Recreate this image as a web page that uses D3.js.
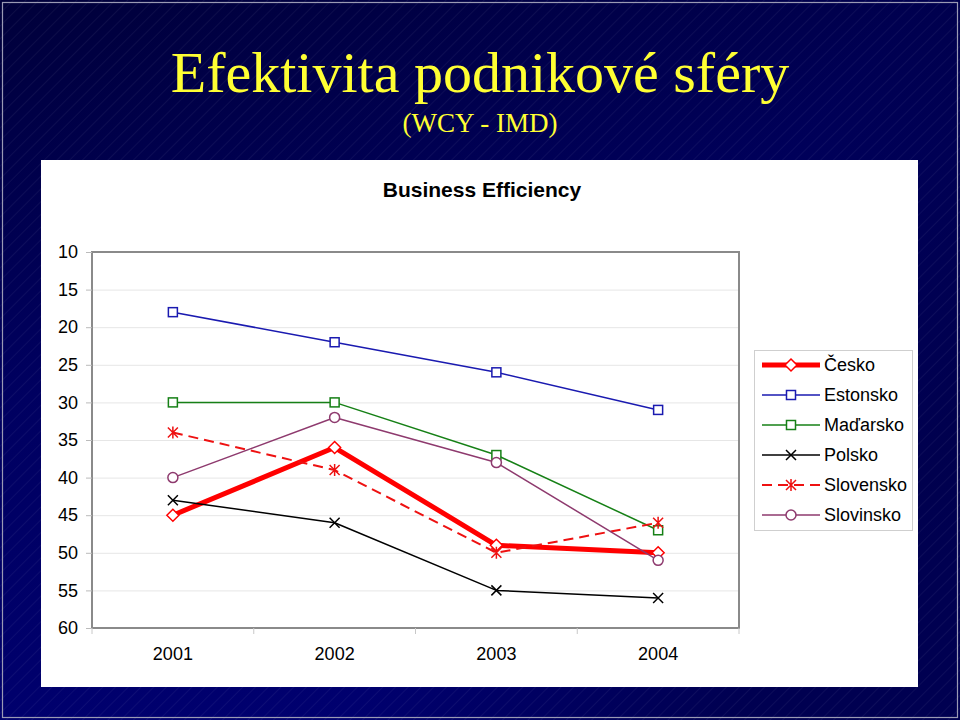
<!DOCTYPE html>
<html>
<head>
<meta charset="utf-8">
<script src="https://cdn.jsdelivr.net/npm/d3@7"></script>
<style>
  html, body { margin: 0; padding: 0; background: #000040; }
  svg { display: block; }
</style>
</head>
<body>
<svg id="chart" width="960" height="720"></svg>
<script>
// ---------- DATA ----------
const years = ["2001", "2002", "2003", "2004"];
const yTicks = [10, 15, 20, 25, 30, 35, 40, 45, 50, 55, 60];
const seriesNames = ["Česko", "Estonsko", "Maďarsko", "Polsko", "Slovensko", "Slovinsko"];
const cesko     = [45, 36, 49, 50];
const estonsko  = [18, 22, 26, 31];
const madarsko  = [30, 30, 37, 47];
const polsko    = [43, 46, 55, 56];
const slovensko = [34, 39, 50, 46];
const slovinsko = [40, 32, 38, 51];
const mainTitle = "Efektivita podnikové sféry";
const subTitle = "(WCY - IMD)";
const chartTitle = "Business Efficiency";

// ---------- STYLES ----------
const styles = [
  { color: "#ff0000", width: 5, dash: null, marker: "diamond" },
  { color: "#1a1ab0", width: 1.5, dash: null, marker: "square" },
  { color: "#168016", width: 1.5, dash: null, marker: "square" },
  { color: "#000000", width: 1.5, dash: null, marker: "x" },
  { color: "#ee1111", width: 2, dash: "10,6", marker: "star" },
  { color: "#8e3a6e", width: 1.5, dash: null, marker: "circle" }
];
const allValues = [cesko, estonsko, madarsko, polsko, slovensko, slovinsko];
const series = seriesNames.map((n, i) => ({ name: n, values: allValues[i], style: styles[i] }));

const sans = "'Liberation Sans', Arial, sans-serif";
const svg = d3.select("#chart");
const W = 960, H = 720;
const defs = svg.append("defs");

// background gradient
const g1 = defs.append("linearGradient").attr("id", "bg").attr("x1", 0).attr("y1", 0).attr("x2", 0.35).attr("y2", 1);
g1.append("stop").attr("offset", 0).attr("stop-color", "#00003a");
g1.append("stop").attr("offset", 0.5).attr("stop-color", "#000062");
g1.append("stop").attr("offset", 1).attr("stop-color", "#000074");
const g2 = defs.append("linearGradient").attr("id", "bg2").attr("x1", 0).attr("y1", 0).attr("x2", 1).attr("y2", 0.6);
g2.append("stop").attr("offset", 0).attr("stop-color", "#000010").attr("stop-opacity", 0);
g2.append("stop").attr("offset", 0.7).attr("stop-color", "#000010").attr("stop-opacity", 0.05);
g2.append("stop").attr("offset", 1).attr("stop-color", "#000010").attr("stop-opacity", 0.35);
const pat = defs.append("pattern").attr("id", "diag").attr("width", 9).attr("height", 9)
  .attr("patternUnits", "userSpaceOnUse").attr("patternTransform", "rotate(45)");
pat.append("line").attr("x1", 0).attr("y1", 0).attr("x2", 0).attr("y2", 9)
  .attr("stroke", "#ffffff").attr("stroke-opacity", 0.05).attr("stroke-width", 2);

svg.append("rect").attr("width", W).attr("height", H).attr("fill", "url(#bg)");
svg.append("rect").attr("width", W).attr("height", H).attr("fill", "url(#bg2)");
svg.append("rect").attr("width", W).attr("height", H).attr("fill", "url(#diag)");
svg.append("rect").attr("x", 2.5).attr("y", 2.5).attr("width", W - 5).attr("height", H - 5)
  .attr("fill", "none").attr("stroke", "#9a9ab4").attr("stroke-width", 1.2);

// titles
svg.append("text").attr("x", 480).attr("y", 92).attr("text-anchor", "middle")
  .attr("font-family", "'Liberation Serif', 'Times New Roman', serif").attr("font-size", 58)
  .attr("fill", "#ffff33").text(mainTitle);
svg.append("text").attr("x", 480).attr("y", 132).attr("text-anchor", "middle")
  .attr("font-family", "'Liberation Serif', 'Times New Roman', serif").attr("font-size", 27)
  .attr("fill", "#ffff33").text(subTitle);

// white chart panel
svg.append("rect").attr("x", 41).attr("y", 160).attr("width", 877).attr("height", 527).attr("fill", "#ffffff");

svg.append("text").attr("x", 482).attr("y", 197).attr("text-anchor", "middle")
  .attr("font-family", sans).attr("font-weight", "bold").attr("font-size", 21)
  .attr("fill", "#000").text(chartTitle);

// plot area
const pl = 92, pr = 739, pt = 252, pb = 628;
const x = d3.scaleBand().domain(years).range([pl, pr]).padding(0);
const cx = d => x(d) + x.bandwidth() / 2;
const y = d3.scaleLinear().domain([10, 60]).range([pt, pb]);

// gridlines
svg.append("g").attr("transform", `translate(${pl},0)`)
  .call(d3.axisLeft(y).tickValues(yTicks).tickSize(-(pr - pl)).tickFormat(""))
  .call(g => g.select(".domain").remove())
  .call(g => g.selectAll("line").attr("stroke", "#e6e6e6").attr("stroke-width", 1));

// plot border
svg.append("rect").attr("x", pl).attr("y", pt).attr("width", pr - pl).attr("height", pb - pt)
  .attr("fill", "none").attr("stroke", "#8a8a8a").attr("stroke-width", 2);

// y axis
svg.append("g").attr("transform", `translate(${pl},0)`)
  .call(d3.axisLeft(y).tickValues(yTicks).tickSize(6).tickPadding(8).tickFormat(d3.format("d")))
  .call(g => g.select(".domain").remove())
  .call(g => g.selectAll("line").attr("stroke", "#bbbbbb"))
  .call(g => g.selectAll("text").attr("font-family", sans).attr("font-size", 18).attr("fill", "#000"));

// x axis labels
svg.append("g").attr("transform", `translate(0,${pb})`)
  .call(d3.axisBottom(x).tickSize(0).tickPadding(19))
  .call(g => g.select(".domain").remove())
  .call(g => g.selectAll("text").attr("font-family", sans).attr("font-size", 18).attr("fill", "#000"));
// x boundary ticks
const bounds = years.map(d => x(d)).concat([pr]);
svg.append("g").selectAll("line").data(bounds).join("line")
  .attr("x1", d => d).attr("x2", d => d).attr("y1", pb).attr("y2", pb + 6)
  .attr("stroke", "#c8c8c8").attr("stroke-width", 1);

// marker drawing
function drawMarker(g, type, color, px, py) {
  const s = 5;
  if (type === "diamond") {
    g.append("path").attr("d", `M${px},${py - 6}L${px + 6},${py}L${px},${py + 6}L${px - 6},${py}Z`)
      .attr("fill", "#fff").attr("stroke", color).attr("stroke-width", 1.5);
  } else if (type === "square") {
    g.append("rect").attr("x", px - 4.5).attr("y", py - 4.5).attr("width", 9).attr("height", 9)
      .attr("fill", "#fff").attr("stroke", color).attr("stroke-width", 1.5);
  } else if (type === "circle") {
    g.append("circle").attr("cx", px).attr("cy", py).attr("r", 5)
      .attr("fill", "#fff").attr("stroke", color).attr("stroke-width", 1.5);
  } else if (type === "x") {
    g.append("path").attr("d", `M${px - s},${py - s}L${px + s},${py + s}M${px - s},${py + s}L${px + s},${py - s}`)
      .attr("stroke", color).attr("stroke-width", 1.5).attr("fill", "none");
  } else if (type === "star") {
    g.append("path").attr("d", `M${px - s},${py - s}L${px + s},${py + s}M${px - s},${py + s}L${px + s},${py - s}M${px},${py - 6}L${px},${py + 6}`)
      .attr("stroke", color).attr("stroke-width", 1.5).attr("fill", "none");
  }
}

const line = d3.line().x((d, i) => cx(years[i])).y(d => y(d));
series.forEach(s => {
  const g = svg.append("g");
  g.append("path").attr("d", line(s.values)).attr("fill", "none")
    .attr("stroke", s.style.color).attr("stroke-width", s.style.width)
    .attr("stroke-dasharray", s.style.dash).attr("stroke-linejoin", "round");
  s.values.forEach((v, i) => drawMarker(g, s.style.marker, s.style.color, cx(years[i]), y(v)));
});

// legend
const lg = svg.append("g");
lg.append("rect").attr("x", 754.5).attr("y", 350.5).attr("width", 158).attr("height", 180)
  .attr("fill", "#fff").attr("stroke", "#cfcfcf").attr("stroke-width", 1);
series.forEach((s, i) => {
  const ly = 365 + i * 30;
  lg.append("line").attr("x1", 762).attr("x2", 820).attr("y1", ly).attr("y2", ly)
    .attr("stroke", s.style.color).attr("stroke-width", s.style.width)
    .attr("stroke-dasharray", s.style.dash);
  drawMarker(lg, s.style.marker, s.style.color, 791, ly);
  lg.append("text").attr("x", 824).attr("y", ly).attr("dy", "0.35em")
    .attr("font-family", sans).attr("font-size", 18).attr("fill", "#000")
    .text(s.name);
});
</script>
</body>
</html>
